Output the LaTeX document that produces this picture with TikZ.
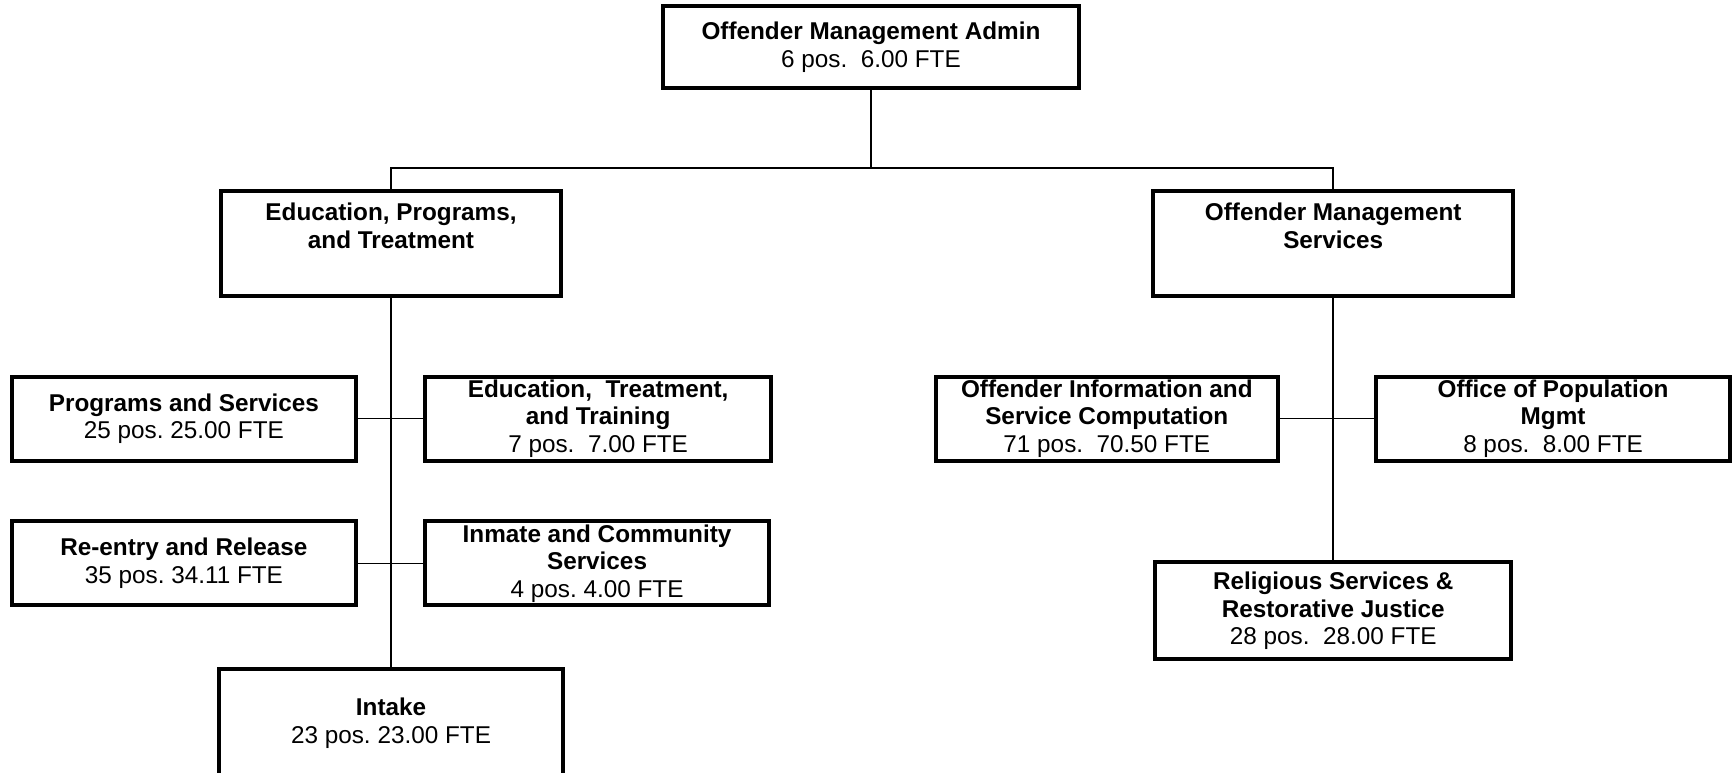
\documentclass[tikz,border=0pt]{standalone}
\usepackage{fontspec}
\setmainfont{Liberation Sans}
\frenchspacing
\begin{document}
\begin{tikzpicture}[x=0.5pt,y=-0.5pt,
  box/.style={draw=black, line width=1.8pt, rectangle, fill=white, align=center,
    inner sep=0pt, font=\fontsize{11}{12.5}\selectfont,
    execute at begin node={\rule{0pt}{12pt}}},
  conn/.style={draw=black, line width=0.7pt}]
\useasboundingbox (0,0) rectangle (1568,699);
\clip (0,0) rectangle (1568,699);
% nodes
\node[box, minimum width=188.5pt, minimum height=37.5pt] (admin) at (788.5,42.5)
  {\textbf{Offender Management Admin}\\6 pos.\ \ 6.00 FTE};
\node[box, minimum width=154pt, minimum height=47.5pt] (ept) at (354,220.5)
  {\textbf{Education, Programs,}\\\textbf{and Treatment}\\\strut};
\node[box, minimum width=163pt, minimum height=47.5pt] (oms) at (1207,220.5)
  {\textbf{Offender Management}\\\textbf{Services}\\\strut};
\node[box, minimum width=155.5pt, minimum height=38pt] (ps) at (166.5,379)
  {\textbf{Programs and Services}\\25 pos. 25.00 FTE};
\node[box, minimum width=156.5pt, minimum height=38pt] (ett) at (541.5,379)
  {\textbf{Education,\ \ Treatment,}\\\textbf{and Training}\\7 pos.\ \ 7.00 FTE};
\node[box, minimum width=155.5pt, minimum height=38pt] (rr) at (166.5,510)
  {\textbf{Re-entry and Release}\\35 pos. 34.11 FTE};
\node[box, minimum width=155.5pt, minimum height=38pt] (ics) at (540.5,510)
  {\textbf{Inmate and Community}\\\textbf{Services}\\4 pos. 4.00 FTE};
\node[box, minimum width=156pt, minimum height=49pt] (intake) at (354,655)
  {\textbf{Intake}\\23 pos. 23.00 FTE};
\node[box, minimum width=155pt, minimum height=38pt] (ois) at (1002,379)
  {\textbf{Offender Information and}\\\textbf{Service Computation}\\71 pos.\ \ 70.50 FTE};
\node[box, minimum width=160pt, minimum height=38pt] (opm) at (1406,379)
  {\textbf{Office of Population}\\\textbf{Mgmt}\\8 pos.\ \ 8.00 FTE};
\node[box, minimum width=161pt, minimum height=44pt] (rel) at (1207,553)
  {\textbf{Religious Services \&}\\\textbf{Restorative Justice}\\28 pos.\ \ 28.00 FTE};
% connectors
\coordinate (j1) at (788.5,152);
\draw[conn] (admin.south) -- (j1);
\draw[conn] (ept.north) -- (ept.north |- j1) -- (oms.north |- j1) -- (oms.north);
\draw[conn] (ept.south) -- (intake.north);
\draw[conn] (ps.east) -- (ett.west);
\draw[conn] (rr.east) -- (ics.west);
\draw[conn] (oms.south) -- (rel.north);
\draw[conn] (ois.east) -- (opm.west);
\end{tikzpicture}
\end{document}
